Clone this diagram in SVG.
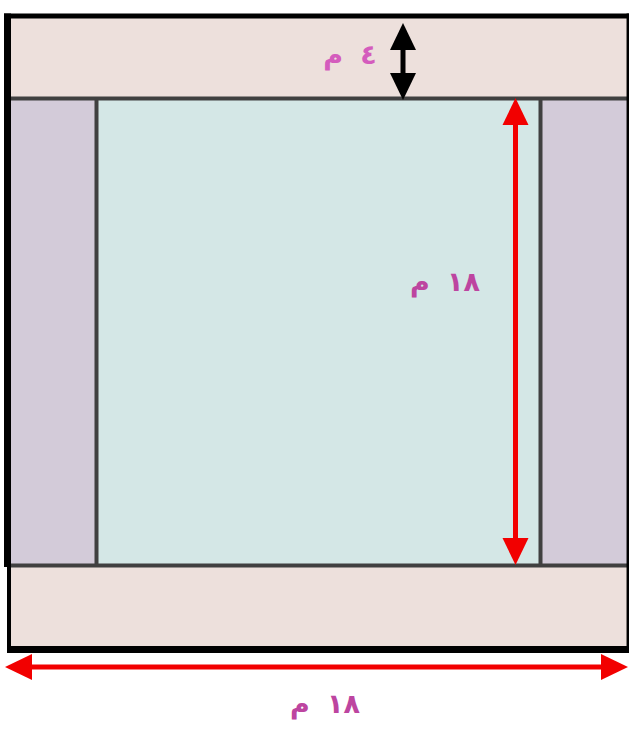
<svg xmlns="http://www.w3.org/2000/svg" width="629" height="731" viewBox="0 0 629 731">
<style>
.band{fill:#ede0dc}
.side{fill:#d3cbd9}
.core{fill:#d4e7e6}
.div{stroke:#404040;stroke-width:4;fill:none}
.edge{stroke:#000;fill:none}
.lbl{font-family:"DejaVu Sans",sans-serif;font-weight:bold;font-size:27px;fill:#bd45a0;word-spacing:8px;letter-spacing:4px}
.red{stroke:#f20000;stroke-width:5;fill:none}
.blk{stroke:#000;stroke-width:5;fill:none}
</style>
<defs>
<marker id="hr" markerUnits="userSpaceOnUse" markerWidth="28" markerHeight="28" refX="17" refY="13" orient="auto-start-reverse" viewBox="0 0 28 26">
<path d="M0,0 L27,13 L0,26 z" fill="#f20000"/>
</marker>
<marker id="hb" markerUnits="userSpaceOnUse" markerWidth="28" markerHeight="28" refX="17" refY="13" orient="auto-start-reverse" viewBox="0 0 28 26">
<path d="M0,0 L27,13 L0,26 z" fill="#000"/>
</marker>
</defs>
<rect width="629" height="731" fill="#fff"/>
<g id="top-band"><rect class="band" x="8" y="16" width="620" height="83"/></g>
<g id="left-strip"><rect class="side" x="8" y="99" width="89" height="467"/></g>
<g id="center"><rect class="core" x="96" y="99" width="445" height="467"/></g>
<g id="right-strip"><rect class="side" x="540" y="99" width="88" height="467"/></g>
<g id="bottom-band"><rect class="band" x="9" y="566" width="619" height="83"/></g>
<g id="dividers">
<path class="div" d="M8,98.5 H628 M9,565.5 H628 M96.5,98 V566 M540.5,98 V566"/>
</g>
<g id="frame">
<path class="edge" stroke-width="5" d="M4,16 H629"/>
<path class="edge" stroke-width="7" d="M7.5,13.5 V567"/>
<path class="edge" stroke-width="4" d="M9,565 V653"/>
<path class="edge" stroke-width="7" d="M7,649.5 H629"/>
<path class="edge" stroke-width="2.5" d="M627.8,13.5 V653"/>
</g>
<g id="connectors">
<path class="blk" d="M403,33 V90" marker-start="url(#hb)" marker-end="url(#hb)"/>
<path class="red" d="M515.5,108 V555" marker-start="url(#hr)" marker-end="url(#hr)"/>
<path class="red" d="M15,667 H618" marker-start="url(#hr)" marker-end="url(#hr)"/>
</g>
<g id="labels">
<text class="lbl" x="350" y="64" text-anchor="middle" direction="rtl" style="fill:#d45cbd">٤ م</text>
<text class="lbl" x="445" y="291" text-anchor="middle" direction="rtl">١٨ م</text>
<text class="lbl" x="325" y="713" text-anchor="middle" direction="rtl">١٨ م</text>
</g>
</svg>
